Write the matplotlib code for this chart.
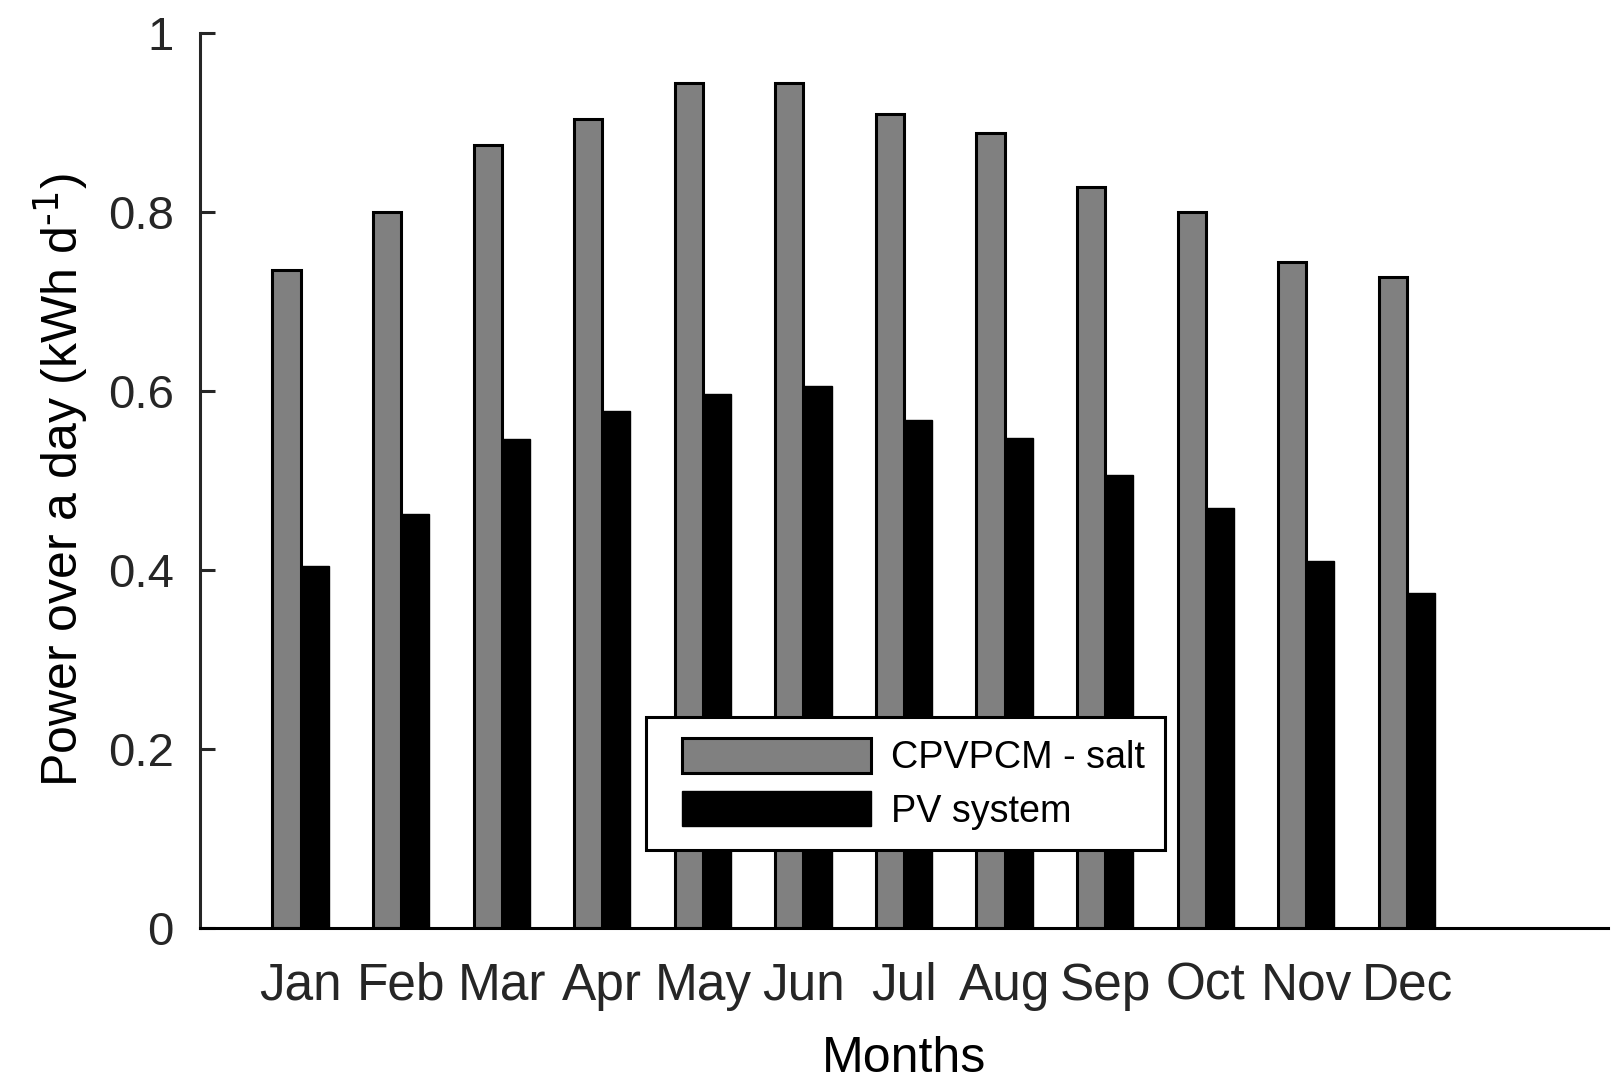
import numpy as np
import matplotlib
matplotlib.use("Agg")
import matplotlib.pyplot as plt
from matplotlib.patches import Rectangle
from matplotlib.legend_handler import HandlerPatch
from matplotlib.container import BarContainer

plt.rcParams['font.family'] = ['Liberation Sans', 'DejaVu Sans']
plt.rcParams['mathtext.default'] = 'regular'

months = ['Jan', 'Feb', 'Mar', 'Apr', 'May', 'Jun', 'Jul', 'Aug', 'Sep', 'Oct', 'Nov', 'Dec']
cpvpcm_salt = [0.735, 0.800, 0.875, 0.904, 0.944, 0.944, 0.909, 0.888, 0.828, 0.800, 0.744, 0.727]
pv_system = [0.405, 0.463, 0.546, 0.578, 0.597, 0.606, 0.568, 0.547, 0.506, 0.469, 0.410, 0.374]

axcol = '#262626'
x = np.arange(1, len(months) + 1)
w = 0.28

fig = plt.figure(figsize=(16.21, 10.92), dpi=100)
ax = fig.add_axes([0.1234, 0.150, 0.8686, 0.820])

ax.bar(x - w / 2, cpvpcm_salt, w, color='#808080', edgecolor='black', linewidth=2.2,
       label='CPVPCM - salt')
ax.bar(x + w / 2, pv_system, w, color='black', edgecolor='black', linewidth=1,
       label='PV system')

ax.set_xlim(0, 14)
ax.set_ylim(0, 1)
ax.set_xticks(x)
ax.set_xticklabels(months)
ax.set_yticks([0, 0.2, 0.4, 0.6, 0.8, 1])
ax.set_yticklabels(['0', '0.2', '0.4', '0.6', '0.8', '1'])

for s in ['top', 'right']:
    ax.spines[s].set_visible(False)
for s in ['left', 'bottom']:
    ax.spines[s].set_linewidth(2.2)
    ax.spines[s].set_color(axcol)
ax.spines['bottom'].set_color('black')

ax.tick_params(axis='y', direction='in', length=11, width=2.2, color=axcol,
               labelsize=34, labelcolor=axcol, pad=19)
ax.tick_params(axis='x', length=0, labelsize=37, labelcolor=axcol, pad=24)

ax.set_xlabel('Months', fontsize=36, color='black', labelpad=18)
ax.set_ylabel(r'Power over a day (kWh d$^{\text{-1}}$)', fontsize=36, color='black',
              labelpad=12)


# MATLAB style legend icon: extra space on the left of the swatch
def swatch(legend, orig_handle, xdescent, ydescent, width, height, fontsize):
    off = 0.4 * fontsize
    return Rectangle((-xdescent + off, -ydescent), width - off, height)


def first_bar(legend_patch, orig_handle):
    legend_patch.update_from(orig_handle.patches[0])


leg = ax.legend(loc='lower left', bbox_to_anchor=(0.317, 0.087), borderaxespad=0,
                fontsize=27.2, handlelength=5.4, handleheight=1.05, handletextpad=0.52,
                borderpad=0.55, labelspacing=0.4, fancybox=False, framealpha=1,
                handler_map={BarContainer: HandlerPatch(patch_func=swatch,
                                                        update_func=first_bar)})
leg.get_frame().set_edgecolor('black')
leg.get_frame().set_linewidth(2.2)

fig.savefig('out.png', dpi=100)
